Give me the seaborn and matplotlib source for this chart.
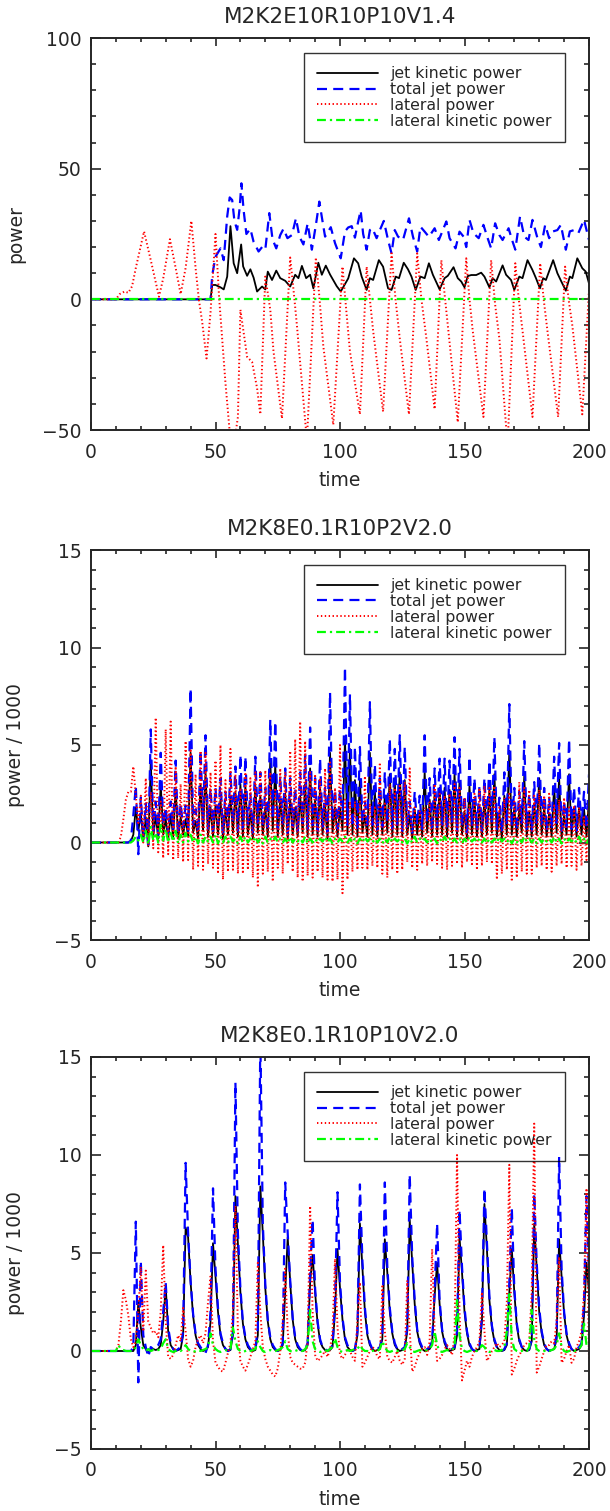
import numpy as np
import matplotlib
matplotlib.use("Agg")
import matplotlib.pyplot as plt
import seaborn as sns
from matplotlib.ticker import MultipleLocator

# ---------------- data ----------------
titles = ["M2K2E10R10P10V1.4", "M2K8E0.1R10P2V2.0", "M2K8E0.1R10P10V2.0"]
ylabels = ["power", "power / 1000", "power / 1000"]
legend_labels = ["jet kinetic power", "total jet power", "lateral power", "lateral kinetic power"]

# Panel 1 (vertices)
p1_black_t = [0, 48, 48.7, 50, 52, 53.3, 54.7, 56, 57.3, 58.7, 60.3, 61.1, 62.7, 64, 65.3, 66.7, 68.7, 70, 71, 72.7,
              74.4, 76, 78, 80, 82, 83.3, 84.7, 86.4, 88, 89.3, 91.3, 92.7, 94.3, 96, 98.7, 100.3, 103.3, 105.6, 107.3, 108.7,
              110.7, 112, 113.3, 115.6, 117.3, 119.3, 120.7, 122.4, 123.7, 125.6, 127.3, 128.7, 130.4, 132.3, 134, 135.7, 137.3, 138.9, 140, 142,
              143.3, 145.6, 147.3, 148.7, 150, 151.3, 152.7, 154.7, 156.7, 158, 160, 161.3, 162.7, 165.3, 166.7, 168.7, 170, 172, 173.3, 175.3,
              177.3, 178.7, 180.3, 181.6, 182.7, 185.6, 187.3, 188.9, 190.7, 192.3, 193.3, 195.3, 197.3, 198.7, 200]
p1_black_v = [0, 0, 5.5, 5.5, 4.6, 3.8, 8.7, 28, 13.8, 10, 21, 12.6, 9, 11.5, 8.3, 3, 4.9, 3.8, 10.6, 7.4,
              11, 8.1, 7.1, 4.9, 9.4, 8.1, 12.8, 8.1, 9.4, 4.2, 14, 9.4, 12.9, 9.5, 5, 3, 8.0, 15.7, 13.8, 8.7,
              3.6, 8.1, 7.4, 15, 12.5, 4.2, 3.6, 8.7, 8.1, 14, 11.5, 8.7, 3.6, 8.7, 8.1, 13.8, 9.4, 6.1, 3.8, 8.1,
              9.0, 12.3, 8.1, 6.8, 4.6, 8.9, 9.3, 9.3, 10.2, 8.7, 4.6, 8.1, 6.8, 13, 9.4, 7.4, 3.6, 8.7, 8.1, 15,
              11.2, 8.1, 4.2, 8.1, 7.4, 15, 10, 6.8, 3.3, 8.7, 8.1, 15.7, 11.9, 10.6, 6.1]

p1_blue_t = [0, 48, 48.7, 50, 52, 53.3, 54.7, 55.7, 56.7, 57.6, 58.7, 59.7, 60.4, 61.3, 62.4, 64, 65.3, 67.3, 68.7, 70,
             71.6, 72.9, 74.4, 76, 77.3, 78.9, 80.7, 82.3, 83.7, 85.3, 87, 88.7, 90.4, 91.7, 92.7, 94, 96.3, 98, 100.3, 102,
             103.3, 104.7, 106, 106.9, 108.3, 109.3, 110.7, 112, 113, 114.7, 116, 117.6, 119.3, 120.7, 122, 123.3, 125.3, 127.7, 129.3, 131,
             132.3, 134, 135.7, 138, 139.7, 142.7, 144, 146.4, 148, 149.7, 150.7, 152, 153.6, 155.7, 157.6, 159.3, 160.7, 162.3, 164, 165.3,
             167.7, 169.1, 170.4, 172.3, 174, 175.7, 177.3, 179.3, 180.7, 182.4, 184, 185.6, 187.3, 188.7, 190.7, 192.3, 194, 195.7, 198, 200]
p1_blue_v = [0, 0, 9.3, 16.3, 19.5, 15, 31.7, 39, 38, 30, 26.6, 35, 44.4, 34, 25, 27, 22, 18.3, 20, 19,
             33, 23, 19.5, 24.6, 27, 23.4, 24.6, 31, 24, 21, 29, 19, 29, 37.4, 31.5, 24, 27.6, 21.5, 15.7, 26,
             27.5, 28, 23.6, 28, 34, 25, 19, 26.5, 27.2, 23.4, 26.5, 30, 22.7, 17.6, 26.5, 24, 22.7, 31, 24, 18.3,
             27.8, 25.9, 23.9, 27.2, 22.7, 29.8, 23.4, 19.5, 25.9, 23.9, 20, 30.4, 25.3, 23.4, 28.5, 23.4, 19.5, 29.1, 24.6, 22.7,
             27.2, 22.7, 19, 31.7, 24, 22.7, 30.4, 23.4, 20, 28.5, 23.4, 26, 26.5, 28.5, 19, 26, 26.5, 25.3, 30.4, 22.7]

p1_red_t = [0, 10, 11.5, 13.5, 15, 16.5, 18, 21.3, 24, 27.3, 29, 31.7, 34, 36, 38, 40.3, 42, 43.3, 44.7, 46.4,
            48, 50, 51.5, 54, 56, 57.5, 59, 60, 62.7, 64.7, 66.7, 68, 70, 72, 73.3, 76.7, 80, 81.5, 82.7, 86.7, 90.3, 91.8, 93.3,
            97.3, 101, 102.5, 104, 108, 110.7, 112, 113.3, 117.3, 120.7, 122.3, 124, 127.7, 131, 132.7, 134.7, 138, 140.7, 142, 143.3, 147.3,
            150.7, 152, 153.3, 157.6, 160.7, 162.3, 164, 167.3, 170.4, 171.8, 173.3, 177.3, 180.4, 181.8, 183.3, 187.6, 190.4, 191.8, 193.3,
            197.3, 200]
p1_red_v = [0, 0, 2, 3, 2.5, 5, 12, 26, 15, 1, 8, 23, 12, 2, 12, 30, 12, 0, -9, -22.6,
            -5, 25, 0, -32, -54, -55, -45, -4, -22, -24, -34, -44, 8.7, -4, -20, -45.6, 16, 2, -10, -54, 16, 0, -18,
            -48, 12.5, -4, -20, -44, 12.5, 0, -12, -43, 17.6, 0, -15, -44, 17.6, 0, -15, -42, 15, 2, -10, -47,
            15.7, 0, -12, -45, 15, -2, -15, -56, 13.8, 0, -12, -45, 13.8, 0, -12, -45, 12.5, 0, -10,
            -44, 3.6]

p1_green_t = [0, 200]
p1_green_v = [0, 0]

# Panel 2: t = 0..19 values, then peaks at even t 20..200 and troughs at odd t 21..199
p2_black_pre = [0, 0, 0, 0, 0, 0, 0, 0, 0, 0, 0, 0, 0, 0, 0, 0, 0.05, 0.4, 1.8, 0.6]
p2_blue_pre = [0, 0, 0, 0, 0, 0, 0, 0, 0, 0, 0, 0, 0, 0, 0, 0, 0.1, 1.4, 2.9, -0.6]
p2_red_pre = [0, 0, 0, 0, 0, 0, 0, 0, 0, 0, 0, 0, 0.3, 1.2, 2.2, 2.6, 2.6, 3.9, 2.4, 1.0]
p2_green_pre = [0, 0, 0, 0, 0, 0, 0, 0, 0, 0, 0, 0, 0, 0, 0, 0, 0, 0.1, 0.3, 0.1]

p2_blue_peak = [2.3, 2.0, 5.8, 2.1, 4.6, 1.8, 2.1, 4.2, 2.0, 1.9,
                7.9, 1.7, 4.7, 5.5, 2.8, 2.8, 3.3, 2.6, 3.6, 3.9,
                4.5, 4.4, 2.5, 4.4, 3.6, 2.8, 6.3, 6.2, 3.4, 3.8,
                3.3, 2.8, 3.6, 4.5, 5.9, 3.3, 4.3, 2.8, 7.7, 2.7,
                2.7, 9.0, 7.6, 4.9, 4.9, 2.1, 7.2, 4.0, 3.3, 3.6,
                5.3, 4.8, 5.5, 4.9, 2.1, 2.6, 2.4, 5.5, 3.3, 3.8,
                4.3, 4.3, 4.2, 5.4, 4.8, 2.4, 4.4, 3.3, 2.9, 3.3,
                4.2, 5.4, 2.3, 3.6, 7.1, 2.8, 2.6, 5.2, 2.5, 3.1,
                5.1, 2.8, 2.3, 4.4, 5.1, 2.1, 5.3, 2.8, 2.8, 2.6, 3.5]
p2_black_peak = [1.5, 1.3, 4.2, 1.4, 3.0, 1.2, 1.4, 2.8, 1.3, 1.2,
                 4.6, 1.1, 3.0, 3.6, 1.8, 1.9, 2.2, 1.7, 2.4, 2.6,
                 3.0, 2.9, 1.6, 2.9, 2.4, 1.8, 4.2, 4.0, 2.2, 2.5,
                 2.2, 1.8, 2.4, 3.0, 3.8, 2.2, 2.8, 1.9, 4.6, 1.8,
                 1.8, 5.3, 4.8, 3.2, 3.2, 1.4, 4.6, 2.6, 2.2, 2.4,
                 3.5, 3.1, 3.6, 3.2, 1.4, 1.7, 1.6, 3.6, 2.2, 2.5,
                 2.8, 2.8, 2.7, 3.5, 3.1, 1.6, 2.9, 2.2, 1.9, 2.2,
                 2.7, 3.5, 1.5, 2.4, 4.7, 1.8, 1.7, 3.4, 1.6, 2.0,
                 3.3, 1.8, 1.5, 2.9, 3.3, 1.4, 3.5, 1.8, 1.8, 1.7, 2.3]
p2_red_peak = [2.4, 3.3, 2.6, 6.4, 2.1, 5.8, 6.2, 3.9, 3.0, 5.2,
               4.8, 3.5, 4.7, 4.6, 3.6, 4.2, 5.0, 3.2, 4.8, 3.5,
               2.8, 3.6, 3.3, 3.6, 3.6, 3.7, 3.6, 2.8, 3.8, 3.6,
               4.7, 5.3, 6.2, 5.2, 3.6, 3.5, 3.3, 3.8, 4.2, 2.8,
               5.0, 2.3, 2.1, 2.1, 2.1, 3.4, 2.0, 1.8, 4.1, 2.0,
               3.0, 2.8, 3.0, 3.1, 3.8, 1.8, 1.6, 1.8, 2.1, 3.0,
               2.5, 2.4, 2.5, 3.0, 2.8, 2.3, 1.9, 2.5, 2.8, 2.9,
               2.8, 2.9, 1.8, 2.3, 2.5, 2.1, 3.1, 2.8, 2.7, 2.4,
               2.7, 2.4, 2.5, 1.9, 2.2, 2.3, 1.8, 1.9, 1.8, 1.3, 2.3]
p2_green_peak = [0.4, 0.6, 0.8, 0.5, 0.9, 0.7, 0.5, 0.6, 0.4, 0.5,
                 0.4, 0.3, 0.4, 0.3, 0.3, 0.4, 0.3, 0.3, 0.3, 0.2,
                 0.3, 0.3, 0.2, 0.3, 0.2, 0.3, 0.2, 0.3, 0.2, 0.2,
                 0.3, 0.2, 0.2, 0.3, 0.2, 0.2, 0.2, 0.3, 0.2, 0.2,
                 0.2, 0.3, 0.2, 0.2, 0.2, 0.3, 0.2, 0.2, 0.2, 0.2,
                 0.3, 0.2, 0.2, 0.2, 0.2, 0.3, 0.2, 0.2, 0.2, 0.2,
                 0.2, 0.3, 0.2, 0.2, 0.2, 0.2, 0.3, 0.2, 0.2, 0.2,
                 0.2, 0.2, 0.3, 0.2, 0.2, 0.2, 0.2, 0.3, 0.2, 0.2,
                 0.2, 0.2, 0.2, 0.3, 0.2, 0.2, 0.2, 0.2, 0.3, 0.2, 0.2]

p2_blue_trough = [0.3, -0.3, 0.6, 0.4, 0.9, 0.5, 0.7, 0.4, 0.8, 0.6,
                  0.9, 0.5, 1.1, 0.7, 0.6, 0.9, 0.5, 0.8, 1.0, 0.6,
                  0.7, 0.9, 0.5, 1.0, 0.8, 0.6, 1.2, 0.7, 0.9, 0.5,
                  0.8, 0.6, 1.0, 0.7, 0.9, 0.6, 0.8, 0.5, 1.1, 0.7,
                  1.2, 0.9, 0.8, 0.6, 1.0, 0.7, 0.9, 0.6, 0.8, 1.0,
                  0.7, 0.9, 0.6, 0.8, 0.5, 0.9, 0.7, 1.0, 0.6, 0.8,
                  0.9, 0.7, 1.0, 0.6, 0.8, 0.5, 0.9, 0.7, 0.6, 0.8,
                  1.0, 0.7, 0.5, 0.9, 0.8, 0.6, 1.0, 0.7, 0.6, 0.9,
                  0.8, 0.6, 0.7, 1.0, 0.5, 0.8, 0.7, 0.6, 0.9, 0.7]
p2_black_trough = [0.1, -0.2, 0.3, 0.2, 0.4, 0.2, 0.3, 0.2, 0.4, 0.3,
                   0.5, 0.2, 0.6, 0.3, 0.3, 0.4, 0.2, 0.4, 0.5, 0.3,
                   0.3, 0.4, 0.2, 0.5, 0.4, 0.3, 0.6, 0.3, 0.4, 0.2,
                   0.4, 0.3, 0.5, 0.3, 0.4, 0.3, 0.4, 0.2, 0.5, 0.3,
                   0.6, 0.4, 0.4, 0.3, 0.5, 0.3, 0.4, 0.3, 0.4, 0.5,
                   0.3, 0.4, 0.3, 0.4, 0.2, 0.4, 0.3, 0.5, 0.3, 0.4,
                   0.4, 0.3, 0.5, 0.3, 0.4, 0.2, 0.4, 0.3, 0.3, 0.4,
                   0.5, 0.3, 0.2, 0.4, 0.4, 0.3, 0.5, 0.3, 0.3, 0.4,
                   0.4, 0.3, 0.3, 0.5, 0.2, 0.4, 0.3, 0.3, 0.4, 0.3]
p2_red_trough = [0.0, -0.2, -0.3, -0.5, -0.8, -0.6, -0.9, -0.8, -1.0, -0.9,
                 -1.4, -1.2, -1.4, -1.1, -1.3, -1.6, -1.9, -1.5, -1.4, -1.6,
                 -1.6, -1.4, -1.8, -2.3, -1.6, -1.5, -2.0, -1.3, -1.6, -1.1,
                 -1.5, -1.8, -2.0, -1.7, -1.8, -1.5, -1.8, -1.9, -2.0, -1.9,
                 -2.6, -1.9, -1.5, -1.4, -1.3, -1.4, -1.2, -1.3, -1.6, -1.8,
                 -1.4, -1.6, -1.4, -1.0, -1.3, -1.4, -1.1, -1.2, -1.0, -1.1,
                 -1.3, -1.4, -1.2, -1.1, -1.3, -1.0, -1.2, -1.4, -1.2, -1.0,
                 -1.1, -1.9, -1.6, -1.4, -2.0, -1.8, -1.5, -1.6, -1.6, -1.3,
                 -1.2, -1.4, -1.5, -1.2, -1.1, -1.3, -1.2, -1.4, -1.2, -0.9]
p2_green_trough = [0.0, -0.1, 0.1, 0.0, 0.1, 0.0, 0.05, -0.05, 0.0, 0.05,
                   0.0, -0.05, 0.0, 0.05, 0.0, -0.05, 0.0, 0.0, 0.05, -0.05,
                   0.0, 0.0, 0.05, 0.0, -0.05, 0.0, 0.05, 0.0, 0.0, -0.05,
                   0.0, 0.05, 0.0, -0.05, 0.0, 0.0, 0.05, 0.0, -0.05, 0.0,
                   0.05, 0.0, 0.0, -0.05, 0.0, 0.05, 0.0, 0.0, -0.05, 0.0,
                   0.0, 0.05, 0.0, -0.05, 0.0, 0.0, 0.05, 0.0, 0.0, -0.05,
                   0.0, 0.05, 0.0, 0.0, -0.05, 0.0, 0.05, 0.0, 0.0, -0.05,
                   0.0, 0.0, 0.05, 0.0, -0.05, 0.0, 0.0, 0.05, 0.0, -0.05,
                   0.0, 0.05, 0.0, 0.0, -0.05, 0.0, 0.05, 0.0, 0.0, -0.05]

# Panel 3: integer time grid 0..200
p3_black = [0, 0, 0, 0, 0, 0, 0, 0, 0, 0,
            0, 0, 0, 0, 0, 0, 0, 0, 0.3, 2.5,
            1.2, 0.3, 0.1, -0.1, 0.05, 0.1, 0.05, 0.1, 0.3, 1.5,
            3.3, 1.0, 0.3, 0.1, 0.0, 0.05, 0.1, 0.8, 6.3, 5.8,
            3.5, 1.8, 0.8, 0.3, 0.1, 0.0, 0.05, 0.2, 1.5, 5.5,
            3.8, 2.0, 0.8, 0.3, 0.1, 0.0, 0.05, 0.8, 7.9, 5.5,
            3.0, 1.4, 0.6, 0.2, 0.05, 0.0, 0.05, 0.8, 8.4, 6.0,
            3.2, 1.5, 0.6, 0.2, 0.05, 0.0, 0.05, 0.3, 3.0, 5.8,
            3.5, 1.6, 0.6, 0.2, 0.05, 0.0, 0.05, 0.3, 3.5, 4.9,
            3.0, 1.4, 0.5, 0.2, 0.05, 0.0, 0.05, 0.2, 2.0, 5.2,
            3.2, 1.6, 0.6, 0.2, 0.05, 0.0, 0.05, 0.8, 6.5, 4.2,
            2.0, 0.8, 0.3, 0.1, 0.0, 0.05, 0.1, 0.6, 5.7, 4.0,
            2.0, 0.9, 0.3, 0.1, 0.0, 0.05, 0.1, 1.0, 6.7, 4.5,
            2.4, 1.0, 0.4, 0.1, 0.0, 0.05, 0.1, 0.4, 2.8, 4.5,
            2.4, 1.0, 0.4, 0.1, 0.0, 0.05, 0.1, 0.8, 5.8, 4.0,
            2.0, 0.9, 0.3, 0.1, 0.0, 0.05, 0.1, 1.5, 7.5, 5.2,
            2.6, 1.2, 0.5, 0.2, 0.05, 0.0, 0.05, 0.3, 3.0, 5.2,
            3.0, 1.3, 0.5, 0.2, 0.05, 0.0, 0.05, 0.5, 6.5, 4.2,
            2.0, 0.9, 0.3, 0.1, 0.0, 0.05, 0.1, 0.6, 5.7, 3.8,
            1.9, 0.8, 0.3, 0.1, 0.0, 0.05, 0.1, 0.3, 1.8, 4.5,
            3.0]
p3_blue = [0, 0, 0, 0, 0, 0, 0, 0, 0, 0,
           0, 0, 0, 0, 0, 0, 0, 0.2, 6.6, -1.6,
           4.6, 0.8, 0.2, -0.3, 0.2, 0.1, 0.2, 0.3, 0.6, 2.0,
           3.5, 1.2, 0.4, 0.1, 0.0, 0.1, 0.2, 1.0, 9.6, 6.0,
           3.6, 1.9, 0.9, 0.4, 0.2, 0.0, -0.1, 0.3, 2.0, 8.3,
           4.2, 2.2, 0.9, 0.4, 0.1, 0.0, 0.1, 1.0, 13.7, 6.0,
           3.2, 1.5, 0.7, 0.3, 0.1, 0.0, 0.1, 1.2, 16.0, 6.5,
           3.4, 1.6, 0.7, 0.3, 0.1, 0.0, 0.1, 0.4, 8.6, 6.0,
           3.6, 1.7, 0.7, 0.3, 0.1, 0.0, 0.1, 0.4, 4.0, 6.7,
           3.2, 1.5, 0.6, 0.2, 0.1, 0.0, 0.1, 0.3, 2.5, 8.1,
           3.5, 1.7, 0.7, 0.3, 0.1, 0.0, 0.1, 1.0, 8.5, 4.6,
           2.2, 0.9, 0.4, 0.1, 0.0, 0.1, 0.2, 0.8, 8.6, 4.3,
           2.2, 1.0, 0.4, 0.1, 0.0, 0.1, 0.2, 1.2, 9.0, 4.8,
           2.6, 1.1, 0.5, 0.2, 0.0, 0.1, 0.2, 0.5, 3.0, 6.5,
           2.6, 1.1, 0.5, 0.2, 0.0, 0.1, 0.2, 1.0, 7.2, 4.3,
           2.2, 1.0, 0.4, 0.1, 0.0, 0.1, 0.2, 1.8, 8.3, 5.5,
           2.8, 1.3, 0.6, 0.2, 0.1, 0.0, 0.1, 0.4, 3.5, 7.3,
           3.2, 1.4, 0.6, 0.2, 0.1, 0.0, 0.1, 0.6, 8.0, 4.5,
           2.2, 1.0, 0.4, 0.1, 0.0, 0.1, 0.2, 0.8, 9.9, 4.2,
           2.0, 0.9, 0.4, 0.1, 0.0, 0.1, 0.2, 0.4, 2.5, 7.9,
           4.0]
p3_red = [0, 0, 0, 0, 0, 0, 0, 0, 0, 0,
          0, 0.3, 1.5, 3.1, 2.6, 1.8, 0.6, 0.2, 0.5, 2.0,
          4.3, 1.0, 4.1, 1.5, 1.2, 0.9, 1.0, 0.7, 2.0, 5.4,
          1.5, -0.3, -0.4, -0.2, 0.3, 0.8, 0.5, 2.2, 1.0, -0.4,
          -0.8, -0.5, 0.2, 0.6, 0.8, 0.4, 0.9, 2.5, 3.8, 0.5,
          -0.6, -0.8, -1.0, -1.05, -0.6, -0.1, 0.4, 2.0, 7.4, 1.0,
          -0.5, -0.8, -1.0, -0.7, -0.3, 0.1, 0.5, 4.5, 2.0, 0.2,
          -0.4, -0.8, -1.0, -1.2, -1.3, -0.9, 0.0, 1.5, 4.2, 1.0,
          -0.3, -0.6, -0.7, -0.8, -0.9, -0.9, -0.6, 0.5, 7.4, 2.0,
          -0.2, -0.5, -0.4, -0.2, 0.0, -0.3, 0.1, 1.0, 4.7, 1.2,
          -0.2, -0.4, -0.2, 0.1, 0.0, -0.3, -0.5, 1.5, 3.5, -0.8,
          -0.6, -0.3, 0.0, 0.2, 0.1, -0.3, -0.4, 3.3, 1.0, -0.3,
          -0.5, -0.6, -0.3, 0.0, -0.5, -0.7, -0.4, 3.6, 1.0, -1.05,
          -0.8, -0.4, -0.1, 0.1, 0.2, -0.2, 0.5, 5.2, 1.0, -0.5,
          -0.4, -0.2, 0.1, 0.3, 0.1, -0.2, 0.8, 10.0, 2.0, -1.5,
          -1.0, -0.5, -0.8, -0.3, 0.0, 0.2, 0.5, 3.0, 1.0, -0.5,
          -0.3, 0.0, 0.2, 0.4, 0.2, 0.3, 0.5, 2.5, 9.5, -1.2,
          -0.9, -0.5, -0.2, 0.0, 0.3, 0.4, 0.5, 3.0, 11.6, -1.1,
          -0.8, -0.4, 0.0, 0.3, 0.3, 0.5, 0.4, 1.5, 4.8, -0.6,
          -0.4, 0.0, 0.3, -0.6, -0.4, 0.2, 0.5, 1.0, 3.0, 8.3,
          -0.5]
p3_green = [0, 0, 0, 0, 0, 0, 0, 0, 0, 0,
            0, 0.3, 0.1, 0.05, 0, 0, 0, 0, 0.2, 0.6,
            0.3, 0.1, 0.0, 0.1, 0.0, 0.05, 0.0, 0.05, 0.1, 0.4,
            0.6, 0.1, 0.0, -0.05, 0.0, 0.05, 0.0, 0.1, 0.3, 0.1,
            0.0, -0.05, 0.0, 0.05, 0.0, 0.05, 0.1, 0.2, 0.9, 0.3,
            0.1, 0.0, -0.05, 0.0, 0.05, 0.0, 0.1, 1.2, 0.5, 0.1,
            0.0, -0.05, 0.0, 0.05, 0.0, 0.05, 0.1, 0.5, 0.2, 0.0,
            -0.05, 0.0, 0.05, 0.0, 0.0, 0.05, 0.1, 0.2, 0.5, 0.1,
            0.0, -0.05, 0.0, 0.05, 0.0, 0.0, 0.1, 0.3, 2.1, 0.5,
            0.1, 0.0, -0.05, 0.0, 0.05, 0.0, 0.1, 0.2, 0.65, 0.2,
            0.0, -0.05, 0.0, 0.05, 0.0, 0.05, 0.1, 0.1, 0.3, 0.1,
            0.0, 0.0, -0.05, 0.0, 0.05, 0.0, 0.1, 0.5, 0.2, 0.0,
            -0.05, 0.0, 0.05, 0.0, 0.0, 0.05, 0.1, 0.4, 0.2, 0.0,
            -0.05, 0.0, 0.05, 0.0, 0.0, 0.05, 0.1, 0.3, 1.0, 0.3,
            0.0, -0.05, 0.0, 0.05, 0.0, 0.05, 0.2, 2.6, 0.8, 0.1,
            0.0, -0.05, 0.0, 0.05, 0.0, 0.0, 0.1, 0.3, 0.2, 0.0,
            -0.05, 0.0, 0.05, 0.0, 0.0, 0.05, 0.2, 1.0, 2.9, 0.6,
            0.1, 0.0, -0.05, 0.0, 0.05, 0.0, 0.2, 2.1, 0.6, 0.1,
            0.0, -0.05, 0.0, 0.05, 0.0, 0.05, 0.1, 0.3, 0.9, 0.2,
            0.0, -0.05, 0.0, 0.05, 0.0, 0.05, 0.1, 0.3, 1.4, 0.3,
            0.1]


def interleave(pre, peaks, troughs):
    out = list(pre)
    for pk, tr in zip(peaks, troughs):
        out += [pk, tr]
    out.append(peaks[-1])
    return out


p2_time = np.arange(0, 201)
p2_black = interleave(p2_black_pre, p2_black_peak, p2_black_trough)
p2_blue = interleave(p2_blue_pre, p2_blue_peak, p2_blue_trough)
p2_red = interleave(p2_red_pre, p2_red_peak, p2_red_trough)
p2_green = interleave(p2_green_pre, p2_green_peak, p2_green_trough)
p3_time = np.arange(0, 201)

# ---------------- style ----------------
sns.set_style("ticks")
plt.rcParams['font.family'] = ['DejaVu Sans']
plt.rcParams['axes.linewidth'] = 1.4

styles = [
    dict(color='#000000', lw=1.3, ls='-'),
    dict(color='#0000ff', lw=1.6, ls=(0, (4.5, 2.8))),
    dict(color='#ff0000', lw=1.4, ls=(0, (0.7, 1.3))),
    dict(color='#00ff00', lw=1.6, ls=(0, (4.0, 1.8, 1.0, 1.8))),
]

fig = plt.figure(figsize=(6.1, 15.11), dpi=100)
W, H = 610.0, 1511.0
left, right = 91, 589
panel_px = [(38, 430), (550, 940), (1057, 1449)]
axes = []
for top, bot in panel_px:
    axes.append(fig.add_axes([left / W, 1 - bot / H, (right - left) / W, (bot - top) / H]))

series = [
    [(p1_black_t, p1_black_v), (p1_blue_t, p1_blue_v), (p1_red_t, p1_red_v), (p1_green_t, p1_green_v)],
    [(p2_time, p2_black), (p2_time, p2_blue), (p2_time, p2_red), (p2_time, p2_green)],
    [(p3_time, p3_black), (p3_time, p3_blue), (p3_time, p3_red), (p3_time, p3_green)],
]
ylims = [(-50, 100), (-5, 15), (-5, 15)]
ymaj = [50, 5, 5]
ymin = [10, 1, 1]

for i, ax in enumerate(axes):
    handles = []
    for (tx, vy), st in zip(series[i], styles):
        sns.lineplot(x=list(tx), y=list(vy), ax=ax, estimator=None, sort=False,
                     color=st['color'], linewidth=st['lw'])
        ln = ax.lines[-1]
        ln.set_linestyle(st['ls'])
        handles.append(ln)
    ax.set_xlim(0, 200)
    ax.set_ylim(*ylims[i])
    ax.xaxis.set_major_locator(MultipleLocator(50))
    ax.xaxis.set_minor_locator(MultipleLocator(10))
    ax.yaxis.set_major_locator(MultipleLocator(ymaj[i]))
    ax.yaxis.set_minor_locator(MultipleLocator(ymin[i]))
    ax.tick_params(which='both', direction='in', top=True, right=True, width=1.2, labelsize=13.5)
    ax.xaxis.set_tick_params(which='major', length=5.6, pad=9)
    ax.xaxis.set_tick_params(which='minor', length=2.8)
    ax.yaxis.set_tick_params(which='major', length=7.2, pad=7)
    ax.yaxis.set_tick_params(which='minor', length=3.6)
    for sp in ax.spines.values():
        sp.set_visible(True)
        sp.set_linewidth(1.4)
    ax.set_title(titles[i], fontsize=15.5, pad=11)
    ax.set_xlabel("time", fontsize=13.5, labelpad=7)
    ax.set_ylabel(ylabels[i], fontsize=13.5)
    ax.yaxis.set_label_coords(-66 / 498, 0.5)
    leg = ax.legend(handles=handles, labels=legend_labels, loc='upper right',
                    bbox_to_anchor=(0.952, 0.962), borderaxespad=0.0, fontsize=11.3,
                    frameon=True, fancybox=False, handlelength=3.9, handletextpad=0.75,
                    labelspacing=0.05, borderpad=0.85)
    fr = leg.get_frame()
    fr.set_edgecolor('black')
    fr.set_facecolor('none')
    fr.set_linewidth(1.0)

fig.savefig("out.png", dpi=100)
